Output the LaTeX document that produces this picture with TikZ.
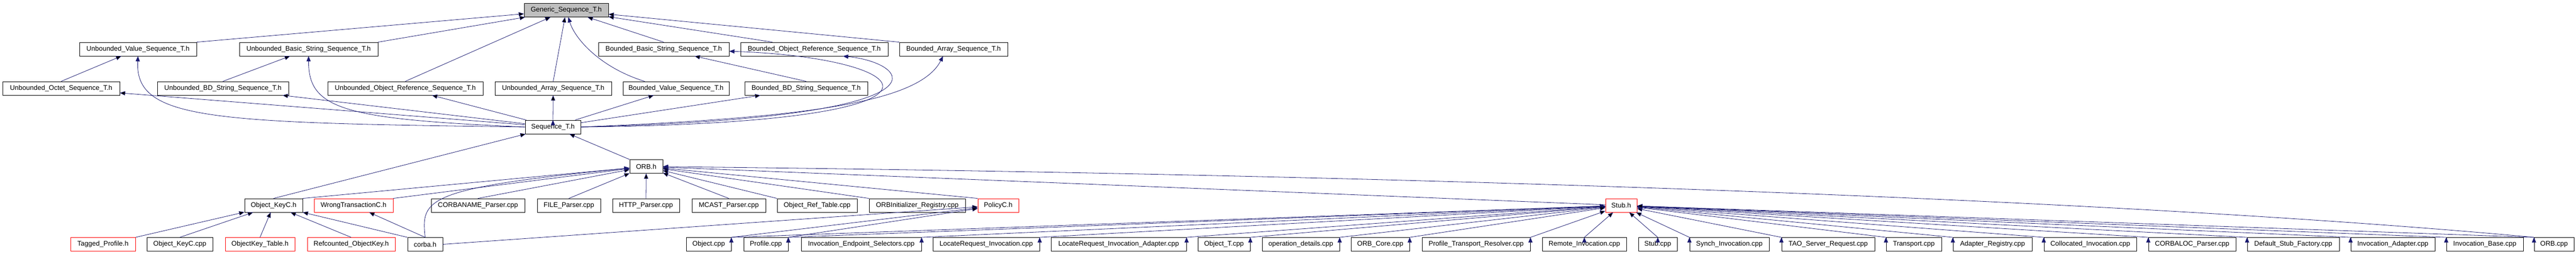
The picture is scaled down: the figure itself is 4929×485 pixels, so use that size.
\documentclass[tikz,border=0pt]{standalone}
\usepackage{fontspec}
\setmainfont{Liberation Sans}
\usetikzlibrary{arrows.meta}
\definecolor{edgeblue}{HTML}{191970}
\definecolor{rootgray}{HTML}{BFBFBF}

\begin{document}
\begin{tikzpicture}[x=1pt,y=-1pt,
	hdr/.style={rectangle,line width=0.8pt,minimum height=26pt,inner sep=0pt,font=\fontsize{13}{15}\selectfont},
	dep/.style={->,>={Triangle[length=10pt,width=8pt]},draw=edgeblue,line width=0.8pt}]
	\useasboundingbox (0,0) rectangle (4929,485);

	\node[hdr,draw=black,fill=rootgray,minimum width=161pt] (gen) at (1083.5,19.5) {Generic\_Sequence\_T.h};

	\foreach \nm/\lbl/\xa/\xb in {uval/Unbounded\_Value\_Sequence\_T.h/152/376,ubstr/Unbounded\_Basic\_String\_Sequence\_T.h/458/723,bbstr/Bounded\_Basic\_String\_Sequence\_T.h/1145/1395,bobj/Bounded\_Object\_Reference\_Sequence\_T.h/1417/1699,barr/Bounded\_Array\_Sequence\_T.h/1721/1928}
		\node[hdr,draw=black,minimum width={(\xb-\xa)*1pt}] (\nm) at ({(\xa+\xb)/2},94) {\lbl};

	\foreach \nm/\lbl/\xa/\xb in {uoct/Unbounded\_Octet\_Sequence\_T.h/5/229,ubd/Unbounded\_BD\_String\_Sequence\_T.h/301/552,uobj/Unbounded\_Object\_Reference\_Sequence\_T.h/627/924,uarr/Unbounded\_Array\_Sequence\_T.h/947/1170,bval/Bounded\_Value\_Sequence\_T.h/1192/1395,bbd/Bounded\_BD\_String\_Sequence\_T.h/1425/1660}
		\node[hdr,draw=black,minimum width={(\xb-\xa)*1pt}] (\nm) at ({(\xa+\xb)/2},169) {\lbl};

	\node[hdr,draw=black,minimum width=106pt] (seq) at (1058,243) {Sequence\_T.h};

	\node[hdr,draw=black,minimum width=63pt] (orb) at (1236.5,318.5) {ORB.h};

	\foreach \nm/\lbl/\xa/\xb/\col in {okh/Object\_KeyC.h/468/579/black,wtc/WrongTransactionC.h/601/752/red,cname/CORBANAME\_Parser.cpp/825/1004/black,filep/FILE\_Parser.cpp/1028/1149/black,httpp/HTTP\_Parser.cpp/1172/1300/black,mcast/MCAST\_Parser.cpp/1324/1465/black,oref/Object\_Ref\_Table.cpp/1487/1640/black,orbinit/ORBInitializer\_Registry.cpp/1663/1847/black,policy/PolicyC.h/1871/1949/red,stubh/Stub.h/3072/3132/red}
		\node[hdr,draw=\col,minimum width={(\xb-\xa)*1pt}] (\nm) at ({(\xa+\xb)/2},393) {\lbl};

	\foreach \nm/\lbl/\xa/\xb/\col in {tagp/Tagged\_Profile.h/135/259/red,okcpp/Object\_KeyC.cpp/281/407/black,oktab/ObjectKey\_Table.h/431/564/red,rcok/Refcounted\_ObjectKey.h/588/756/red,corba/corba.h/780/847/black,objcpp/Object.cpp/1313/1399/black,prof/Profile.cpp/1423/1508/black,ies/Invocation\_Endpoint\_Selectors.cpp/1533/1763/black,lri/LocateRequest\_Invocation.cpp/1785/1989/black,lria/LocateRequest\_Invocation\_Adapter.cpp/2011/2270/black,objt/Object\_T.cpp/2292/2392/black,opd/operation\_details.cpp/2415/2563/black,orbcore/ORB\_Core.cpp/2585/2697/black,ptr/Profile\_Transport\_Resolver.cpp/2721/2928/black,remi/Remote\_Invocation.cpp/2951/3112/black,stubcpp/Stub.cpp/3135/3209/black,synch/Synch\_Invocation.cpp/3233/3385/black,tsr/TAO\_Server\_Request.cpp/3409/3587/black,transp/Transport.cpp/3609/3715/black,adreg/Adapter\_Registry.cpp/3737/3888/black,colloc/Collocated\_Invocation.cpp/3911/4088/black,cloc/CORBALOC\_Parser.cpp/4111/4278/black,dsf/Default\_Stub\_Factory.cpp/4300/4476/black,invad/Invocation\_Adapter.cpp/4498/4659/black,invb/Invocation\_Base.cpp/4681/4828/black,orbcpp/ORB.cpp/4849/4925/black}
		\node[hdr,draw=\col,minimum width={(\xb-\xa)*1pt}] (\nm) at ({(\xa+\xb)/2},467.5) {\lbl};

	% sequence headers
	\path[dep]
		(uval.north east) edge (gen)
		(ubstr.north east) edge (gen)
		(uobj.north) edge (gen)
		(uarr.north) edge (gen)
		(bbstr.north) edge (gen)
		([xshift=-80pt]bobj.north) edge (gen)
		(barr.north west) edge (gen)
		(uoct.north) edge (uval)
		(ubd.north) edge (ubstr)
		(bbd.north) edge (bbstr)
		(seq) edge (uoct)
		(seq) edge (ubd)
		(seq) edge (uobj)
		(seq.north) edge (uarr)
		(seq) edge (bval)
		(seq) edge (bbd);
	\draw[dep] ([xshift=-60pt]bval.north) .. controls (1150,130) and (1100,75) .. (gen);
	\draw[dep] (seq.west) .. controls (400,235) and (258,230) .. (uval.south);
	\draw[dep] (seq.west) .. controls (660,228) and (590,210) .. (ubstr.south);
	\draw[dep] (seq.east) .. controls (1900,235) and (1760,110) .. (bbstr);
	\draw[dep] (seq.east) .. controls (1850,225) and (1740,120) .. ([xshift=55pt]bobj.south);
	\draw[dep] (seq.east) .. controls (1550,225) and (1760,195) .. ([xshift=-20pt]barr.south);

	% ORB.h and friends
	\path[dep]
		(orb.north west) edge (seq)
		(okh.north) edge (seq)
		(okh.north east) edge (orb)
		(wtc.north east) edge (orb)
		(cname.north) edge (orb)
		(filep.north) edge (orb)
		(httpp.north) edge (orb)
		(mcast.north) edge (orb)
		(oref.north west) edge (orb)
		(orbinit.north west) edge (orb)
		(policy.north west) edge (orb)
		(stubh) edge (orb)
		(tagp.north east) edge (okh)
		(okcpp.north) edge (okh)
		(oktab.north) edge (okh)
		(rcok.north) edge (okh)
		(corba.north west) edge (okh)
		(corba.north) edge (wtc)
		(corba.east) edge (policy)
		(objcpp.north east) edge (policy)
		(prof.north east) edge (policy);
	\draw[dep] (corba.north) .. controls (805,380) and (815,360) .. (orb);
	\draw[dep] (orbcpp.north west) .. controls (4100,385) and (2800,335) .. (orb);

	% Stub.h
	\foreach \src in {objcpp,prof,ies,lri,lria,objt,opd,orbcore,ptr}
		\path[dep] (\src.north east) edge (stubh);
	\foreach \src in {remi,stubcpp}
		\path[dep] (\src.north) edge (stubh);
	\foreach \src in {synch,tsr,transp,adreg,colloc,cloc,dsf,invad,invb,orbcpp}
		\path[dep] (\src.north west) edge (stubh);
\end{tikzpicture}
\end{document}
